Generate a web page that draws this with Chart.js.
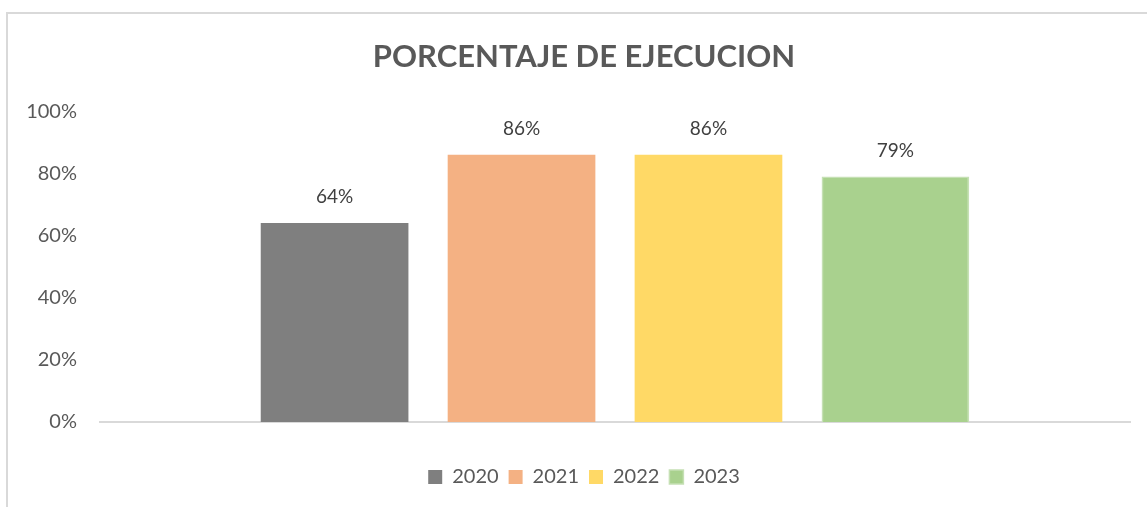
<!DOCTYPE html>
<html>
<head>
<meta charset="utf-8">
<script src="https://cdn.jsdelivr.net/npm/chart.js@4/dist/chart.umd.min.js"></script>
<style>
    html, body { margin: 0; padding: 0; background: #fff; }
    #wrap { position: relative; width: 1147px; height: 507px; overflow: hidden; }
    #frame { position: absolute; left: 6px; top: 12px; width: 1200px; height: 600px; border-left: 2px solid #d9d9d9; border-top: 2px solid #d9d9d9; }
    canvas { position: absolute; left: 0; top: 0; }
</style>
</head>
<body>
<div id="wrap">
    <div id="frame"></div>
    <canvas id="chart" width="1147" height="507"></canvas>
</div>
<script>
// datos del grafico
const categories = [""];
const years = ["2020", "2021", "2022", "2023"];
const values = [64, 86, 86, 79];
const colors = ["#7f7f7f", "#f4b183", "#ffd966", "#a9d18e"];
const borders = ["#7f7f7f", "#f4b183", "#ffd966", "#c5e0b4"];
const yTicks = [0, 20, 40, 60, 80, 100];

const FONT = "Lato, 'Open Sans', sans-serif";

// etiquetas encima de cada barra
const barLabels = {
    id: "barLabels",
    afterDatasetsDraw(chart) {
        const ctx = chart.ctx;
        ctx.save();
        ctx.font = "19px " + FONT;
        ctx.fillStyle = "#404040";
        ctx.textAlign = "center";
        ctx.textBaseline = "middle";
        chart.data.datasets.forEach((ds, i) => {
            const bar = chart.getDatasetMeta(i).data[0];
            ctx.fillText(ds.data[0] + "%", bar.x, bar.y - 26);
        });
        ctx.restore();
    }
};

// titulo y leyenda centrados en el marco, no en todo el lienzo
const shiftBlocks = {
    id: "shiftBlocks",
    afterLayout(chart) {
        if (chart.titleBlock) chart.titleBlock.left += 38;
        if (chart.legend) chart.legend.left += 38;
    }
};

new Chart(document.getElementById("chart"), {
    type: "bar",
    data: {
        labels: categories,
        datasets: years.map((y, i) => ({
            label: y,
            data: [values[i]],
            backgroundColor: colors[i],
            borderColor: borders[i],
            borderWidth: i === 3 ? 1.5 : 0
        }))
    },
    options: {
        responsive: false,
        animation: false,
        categoryPercentage: 0.726,
        barPercentage: 0.79,
        layout: { padding: { left: 0, right: 17, top: 0, bottom: 10 } },
        scales: {
            x: {
                ticks: { display: false },
                grid: { display: true, drawOnChartArea: false, drawTicks: false },
                border: { display: true, color: "#d9d9d9", width: 2 },
                afterFit: s => { s.height = 35; }
            },
            y: {
                min: 0,
                max: 100,
                afterBuildTicks: s => { s.ticks = yTicks.map(v => ({ value: v })); },
                ticks: {
                    padding: 23,
                    color: "#595959",
                    font: { family: FONT, size: 20 },
                    callback: v => v + "%"
                },
                grid: { display: false, drawTicks: false },
                border: { display: false },
                afterFit: s => { s.width = 100; }
            }
        },
        plugins: {
            title: {
                display: true,
                text: "PORCENTAJE DE EJECUCION",
                color: "#595959",
                font: { family: FONT, size: 31, weight: "bold" },
                padding: { top: 38, bottom: 36 }
            },
            legend: {
                position: "bottom",
                labels: {
                    color: "#595959",
                    font: { family: FONT, size: 20 },
                    boxWidth: 14,
                    boxHeight: 14,
                    padding: 10
                }
            },
            tooltip: { enabled: false }
        }
    },
    plugins: [barLabels, shiftBlocks]
});
</script>
</body>
</html>
